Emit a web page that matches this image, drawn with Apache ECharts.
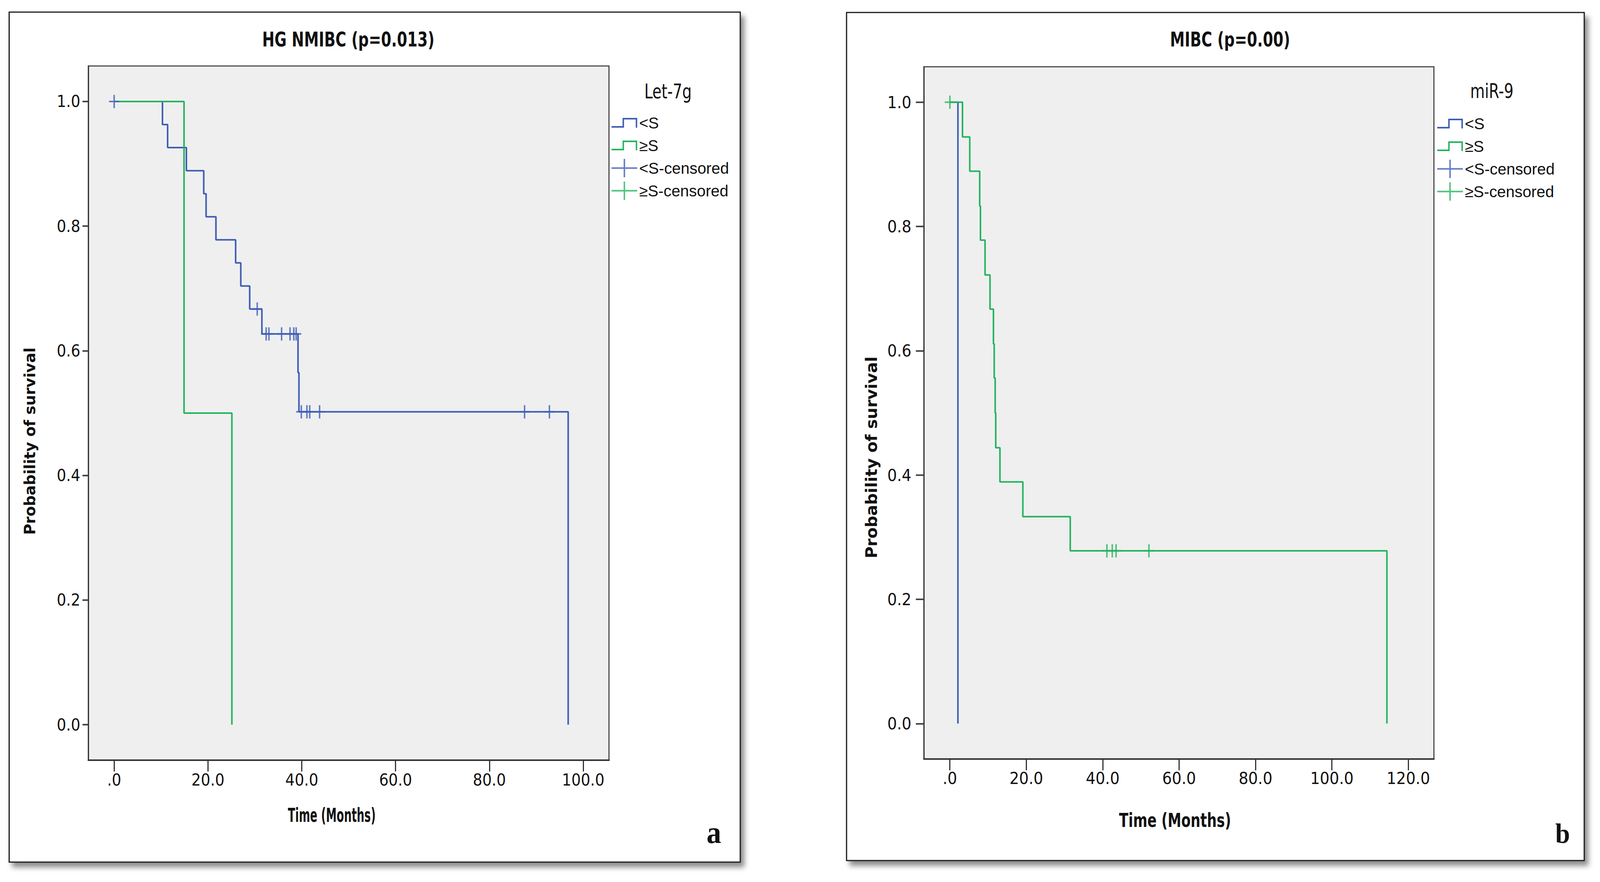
<!DOCTYPE html>
<html>
<head>
<meta charset="utf-8">
<script src="https://cdn.jsdelivr.net/npm/echarts@6.0.0/dist/echarts.min.js"></script>
<style>
html,body{margin:0;padding:0;background:#fff;overflow:hidden;}
#chart{width:100vw;height:100vh;}
</style>
</head>
<body>
<div id="chart"></div>
<script>
// ---------- Panel a : HG NMIBC, Let-7g ----------
const aLowTime  = [0, 10.3, 11.4, 15.4, 19.1, 19.6, 21.7, 25.9, 27.0, 28.9, 31.5, 39.2, 39.4, 96.8];
const aLowSurv  = [1, 0.963, 0.926, 0.889, 0.852, 0.815, 0.778, 0.741, 0.704, 0.667, 0.627, 0.565, 0.502, 0];
const aHighTime = [0, 14.9, 25.1];
const aHighSurv = [1, 0.5, 0];
const aLowCensTime  = [0, 30.5, 32.4, 33.0, 35.7, 37.5, 38.3, 38.8, 39.9, 41.1, 41.7, 43.8, 87.5, 92.8];
const aLowCensSurv  = [1, 0.667, 0.627, 0.627, 0.627, 0.627, 0.627, 0.627, 0.502, 0.502, 0.502, 0.502, 0.502, 0.502];
const aHighCensTime = [];
const aHighCensSurv = [];

// ---------- Panel b : MIBC, miR-9 ----------
const bLowTime  = [0, 2.1];
const bLowSurv  = [1, 0];
const bHighTime = [0, 3.3, 5.2, 7.8, 8.0, 9.2, 10.5, 11.4, 11.6, 11.85, 12.0, 13.1, 19.1, 31.5, 114.4];
const bHighSurv = [1, 0.944, 0.889, 0.833, 0.778, 0.722, 0.667, 0.611, 0.556, 0.5, 0.444, 0.389, 0.333, 0.278, 0];
const bLowCensTime  = [];
const bLowCensSurv  = [];
const bHighCensTime = [0, 41.1, 42.5, 43.5, 52.1];
const bHighCensSurv = [1, 0.278, 0.278, 0.278, 0.278];

// ---------- Axis ticks / labels ----------
const xTicksA  = [0, 20, 40, 60, 80, 100];
const xLabelsA = ['.0', '20.0', '40.0', '60.0', '80.0', '100.0'];
const xTicksB  = [0, 20, 40, 60, 80, 100, 120];
const xLabelsB = ['.0', '20.0', '40.0', '60.0', '80.0', '100.0', '120.0'];
const yTicks   = [0, 0.2, 0.4, 0.6, 0.8, 1.0];
const yLabels  = ['0.0', '0.2', '0.4', '0.6', '0.8', '1.0'];

// ---------- Text ----------
const titleA = 'HG NMIBC (p=0.013)';
const titleB = 'MIBC (p=0.00)';
const legendTitleA = 'Let-7g';
const legendTitleB = 'miR-9';
const seriesNames = ['<S', '≥S', '<S-censored', '≥S-censored'];
const xName = 'Time (Months)';
const yName = 'Probability of survival';

const BLUE = '#3d5db6';
const GREEN = '#22b45e';
const COND = '"DejaVu Sans Condensed","Liberation Sans Narrow",sans-serif';
const ARIAL = '"Liberation Sans",Arial,sans-serif';
const WIDE = '"DejaVu Sans",Verdana,sans-serif';
const SERIF = '"Liberation Serif","Times New Roman",serif';

// layout scale (design space 4364 x 2259)
const W = window.innerWidth || 4364;
const H = window.innerHeight || 2259;
const sx = W / 4364, sy = H / 2259;
const X = v => v * sx, Y = v => v * sy;

const zip = (t, s) => t.map((v, i) => [v, s[i]]);
const lookup = (ticks, labels) => v => {
  const i = ticks.findIndex(t => Math.abs(t - v) < 1e-6);
  return i >= 0 ? labels[i] : '';
};

// legend icons share one 70 x 47 box (tiny corner dots fix the box)
const BOX = 'M0,0H0.01V0.01H0Z M69.99,46.99H70V47H69.99Z ';
const stepIcon  = 'path://' + BOX + 'M0,32H34V36H0Z M30,11H34V36H30Z M30,11H70V15H30Z M66,11H70V36H66Z';
const crossIcon = 'path://' + BOX + 'M0,21.5H70V25.5H0Z M33,0H37V47H33Z';
const censSymbol = 'path://M0,15H28V19H0Z M12,0H16V34H12Z';

function xAxisCfg(gridIndex, min, max, ticks, labels, labelSize, labelMargin, tickLen) {
  return {
    type: 'value', gridIndex, min, max,
    axisLine: {show: true, onZero: false, lineStyle: {color: '#333', width: 4}},
    axisTick: {show: true, customValues: ticks, length: Y(tickLen), lineStyle: {color: '#333', width: 3}},
    axisLabel: {show: true, customValues: ticks, formatter: lookup(ticks, labels), fontFamily: COND, fontSize: labelSize * sx, color: '#111', margin: Y(labelMargin)},
    splitLine: {show: false}
  };
}
function yAxisCfg(gridIndex, nameSize, nameGap, nameShift, labelSize, labelMargin, tickLen) {
  return {
    type: 'value', gridIndex, min: -0.057, max: 1.057,
    name: yName, nameLocation: 'middle', nameRotate: 90, nameGap: X(nameGap),
    nameTextStyle: {fontFamily: WIDE, fontWeight: 'bold', fontSize: nameSize * sy, color: '#111', padding: [0, Y(nameShift), 0, 0]},
    axisLine: {show: true, onZero: false, lineStyle: {color: '#333', width: 3}},
    axisTick: {show: true, customValues: yTicks, length: X(tickLen), lineStyle: {color: '#444', width: 4}},
    axisLabel: {show: true, customValues: yTicks, formatter: lookup(yTicks, yLabels), fontFamily: COND, fontSize: labelSize * sx, color: '#111', margin: X(labelMargin)},
    splitLine: {show: false}
  };
}
function lineSeries(name, idx, data, color) {
  return {name, type: 'line', xAxisIndex: idx, yAxisIndex: idx, data, step: 'end', showSymbol: false, symbol: 'none',
    lineStyle: {color, width: 4}, itemStyle: {color}, animation: false, silent: true, z: 3};
}
function censSeries(name, idx, data, color) {
  return {name, type: 'scatter', xAxisIndex: idx, yAxisIndex: idx, data, symbol: censSymbol, symbolSize: [X(28), Y(34)],
    itemStyle: {color, borderWidth: 0}, animation: false, silent: true, z: 4};
}
function legendCfg(left, top) {
  return {
    left: X(left), top: Y(top), orient: 'vertical', padding: 0, itemWidth: X(70), itemHeight: Y(47), itemGap: Y(11),
    selectedMode: false, itemStyle: {borderWidth: 0}, symbolKeepAspect: false,
    textStyle: {fontFamily: ARIAL, fontSize: 43 * sx, color: '#111'},
    data: [
      {name: seriesNames[0], icon: stepIcon},
      {name: seriesNames[1], icon: stepIcon},
      {name: seriesNames[2], icon: crossIcon},
      {name: seriesNames[3], icon: crossIcon}
    ]
  };
}
// text: centre (x, y) in design space, font size (vertical), horizontal squeeze
function txt(text, x, y, size, family, weight, squeeze) {
  const k = (squeeze || 1) * sx / sy;
  return {type: 'text', x: X(x), y: Y(y), scaleX: k, z: 20,
    style: {text, fontSize: size * sy, fontFamily: family, fontWeight: weight,
      fill: '#111', align: 'center', verticalAlign: 'middle'}};
}
function frame(x, y, w, h) {
  return {type: 'rect', z: -10, shape: {x: X(x), y: Y(y), width: X(w), height: Y(h)},
    style: {fill: '#fff', stroke: '#1a1a1a', lineWidth: 3, shadowBlur: 14, shadowOffsetX: 9, shadowOffsetY: 12, shadowColor: 'rgba(0,0,0,0.45)'}};
}

const chart = echarts.init(document.getElementById('chart'), null, {renderer: 'svg', width: W, height: H});
chart.setOption({
  backgroundColor: '#ffffff',
  animation: false,
  graphic: [
    frame(25, 31, 1994, 2177),
    frame(2309, 32, 2012, 2172),
    txt(titleA, 950, 101, 52, COND, 'bold', 0.86),
    txt(titleB, 3355, 101, 52, COND, 'bold', 0.86),
    txt(legendTitleA, 1822, 234, 52, COND, 'normal', 0.87),
    txt(legendTitleB, 4069, 233, 52, COND, 'normal', 0.87),
    txt(xName, 905, 2088, 50, COND, 'bold', 0.65),
    txt(xName, 3205, 2101, 50, COND, 'bold', 0.83),
    txt('a', 1947, 2132, 80, SERIF, 'bold', 1),
    txt('b', 4262, 2135, 72, SERIF, 'bold', 1)
  ],
  grid: [
    {left: X(241), top: Y(169), width: X(1420), height: Y(1778), show: true, backgroundColor: '#efefef', borderColor: '#4a4a4a', borderWidth: 3, containLabel: false},
    {left: X(2520), top: Y(171), width: X(1391), height: Y(1773), show: true, backgroundColor: '#efefef', borderColor: '#4a4a4a', borderWidth: 3, containLabel: false}
  ],
  xAxis: [
    xAxisCfg(0, -5.5, 105.5, xTicksA, xLabelsA, 45, 29, 29),
    xAxisCfg(1, -6.8, 126.7, xTicksB, xLabelsB, 46, 27, 29)
  ],
  yAxis: [
    yAxisCfg(0, 38.5, 139, 144, 45, 22, 16),
    yAxisCfg(1, 41.5, 121, 228, 46, 34, 22)
  ],
  legend: [legendCfg(1668, 291), legendCfg(3920, 293)],
  series: [
    lineSeries(seriesNames[0], 0, zip(aLowTime, aLowSurv), BLUE),
    lineSeries(seriesNames[1], 0, zip(aHighTime, aHighSurv), GREEN),
    censSeries(seriesNames[2], 0, zip(aLowCensTime, aLowCensSurv), BLUE),
    censSeries(seriesNames[3], 0, zip(aHighCensTime, aHighCensSurv), GREEN),
    lineSeries(seriesNames[0], 1, zip(bLowTime, bLowSurv), BLUE),
    lineSeries(seriesNames[1], 1, zip(bHighTime, bHighSurv), GREEN),
    censSeries(seriesNames[2], 1, zip(bLowCensTime, bLowCensSurv), BLUE),
    censSeries(seriesNames[3], 1, zip(bHighCensTime, bHighCensSurv), GREEN)
  ]
});
</script>
</body>
</html>
